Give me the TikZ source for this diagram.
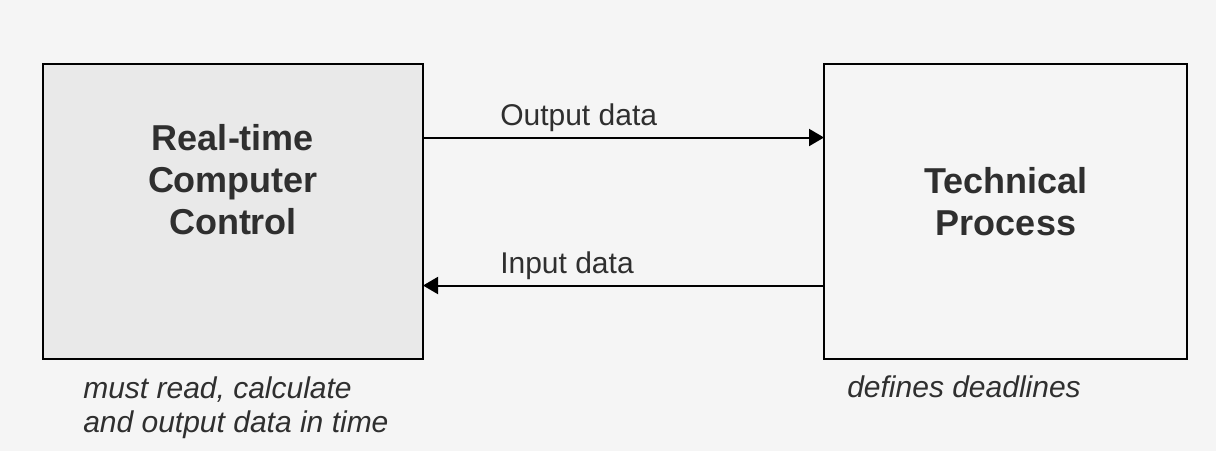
\documentclass[tikz,border=0pt]{standalone}
\usepackage{fontspec}
\setmainfont{Liberation Sans}
\usepackage{xcolor}
\definecolor{rt-back}{HTML}{F5F5F5}
\definecolor{rt-fill}{HTML}{E9E9E9}
\definecolor{rt-text}{HTML}{2F2F2F}
\usetikzlibrary{arrows.meta,calc}

\tikzset{
  block/.style={draw=black, line width=1.6pt, inner sep=0pt, outer sep=0pt,
    minimum height=221.25pt},
  title/.style={text=rt-text, align=center, inner sep=0pt,
    font=\fontsize{27}{31.5}\selectfont\bfseries},
  label/.style={text=rt-text, inner sep=0pt, font=\fontsize{22.5}{25.5}\selectfont},
  remark/.style={text=rt-text, align=left, inner sep=0pt,
    font=\fontsize{22.5}{25.5}\selectfont\itshape},
  flow/.style={draw=black, line width=1.5pt,
    -{Triangle[length=11.25pt, width=12.75pt]}}
}

\begin{document}
\begin{tikzpicture}[x=0.75pt, y=-0.75pt]

    % Background
    \fill[rt-back] (0, 0) rectangle (1216, 451);
    \useasboundingbox (0, 0) rectangle (1216, 451);

    % Boxes
    \node[block, fill=rt-fill, minimum width=285pt] (ctrl) at (233, 211.5) {};
    \node[block, fill=rt-back, minimum width=272.25pt] (proc) at (1005.5, 211.5) {};

    % Box titles
    \node[title] (ctrl-title) at (233, 180) {Real-time\\Computer\\Control};
    \node[title] (proc-title) at (1006, 202) {Technical\\Process};

    % Data flow
    \draw[flow] ($(ctrl.east)+(0, -74)$) -- ($(proc.west)+(0, -74)$);
    \draw[flow] ($(proc.west)+(0, 74)$) -- ($(ctrl.east)+(0, 74)$);
    \node[label, anchor=base west] (out-label) at (500, 125) {Output data};
    \node[label, anchor=base west] (in-label) at (500, 273) {Input data};

    % Remarks
    \node[remark, anchor=north west] (ctrl-remark) at (83, 376.5) {must read, calculate\\and output data in time};
    \node[remark, anchor=north west] (proc-remark) at (847, 375.5) {defines deadlines};

\end{tikzpicture}
\end{document}
